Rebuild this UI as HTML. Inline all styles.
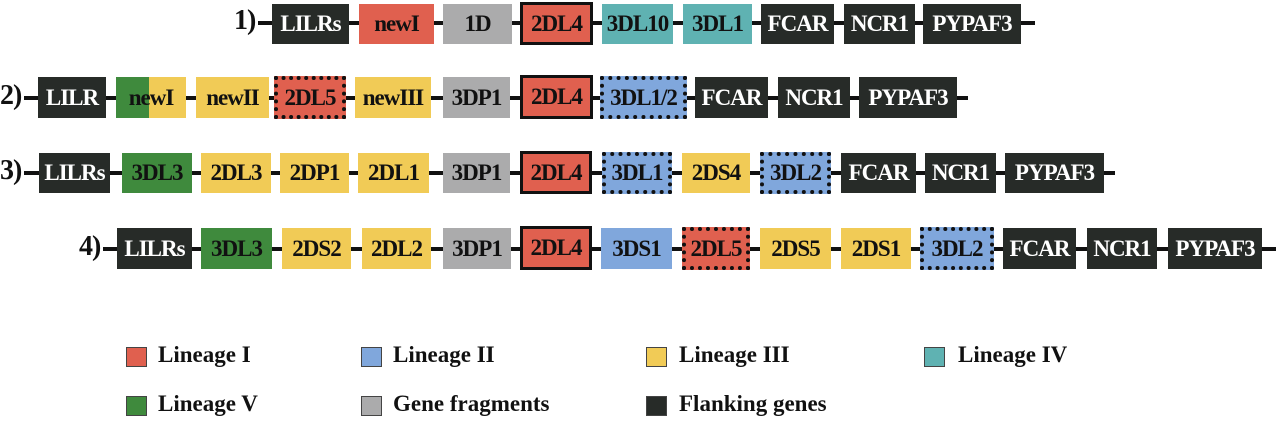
<!DOCTYPE html>
<html><head><meta charset="utf-8"><style>
body{margin:0;width:1280px;height:423px;background:#fff;position:relative;overflow:hidden;font-family:"Liberation Serif",serif;font-weight:bold}
.b{position:absolute;box-sizing:border-box;display:flex;align-items:center;justify-content:center;font-size:23px;color:#111;white-space:nowrap;letter-spacing:-1px}
.ln{position:absolute;height:4px;background:#111}
.lb{position:absolute;font-size:28px;color:#111;letter-spacing:-1px}
.R{background:#e0604f}.B{background:#80a7dc}.Y{background:#f1cb56}.T{background:#5fb2b2}.G{background:#3f8a3d}.S{background:#ababac}.D{background:#272b28;color:#fff}
.k{border:3px solid #111}.d{border:4px dotted #111}
.sq{position:absolute;width:21px;height:20px;box-sizing:border-box;border:1px solid #444}
.lt{position:absolute;font-size:23px;color:#111}
</style></head><body>
<!-- row1 -->
<div class="lb" style="left:234px;top:5px">1)</div>
<div class="ln" style="left:258px;width:777px;top:21px"></div>
<div class="b D" style="left:272px;top:4px;width:77px;height:40px">LILRs</div>
<div class="b R" style="left:359px;top:4px;width:75px;height:40px">newI</div>
<div class="b S" style="left:443px;top:4px;width:69px;height:40px">1D</div>
<div class="b R k" style="left:520px;top:2px;width:73px;height:43px">2DL4</div>
<div class="b T" style="left:602px;top:4px;width:71px;height:40px">3DL10</div>
<div class="b T" style="left:683px;top:4px;width:69px;height:40px">3DL1</div>
<div class="b D" style="left:761px;top:4px;width:73px;height:40px">FCAR</div>
<div class="b D" style="left:844px;top:4px;width:71px;height:40px">NCR1</div>
<div class="b D" style="left:923px;top:4px;width:98px;height:40px">PYPAF3</div>
<!-- row2 -->
<div class="lb" style="left:0px;top:80px">2)</div>
<div class="ln" style="left:24px;width:944px;top:96px"></div>
<div class="b D" style="left:38px;top:77px;width:68px;height:41px">LILR</div>
<div class="b" style="left:116px;top:77px;width:70px;height:41px;background:linear-gradient(90deg,#3f8a3d 0 33px,#f1cb56 33px)">newI</div>
<div class="b Y" style="left:196px;top:77px;width:73px;height:41px">newII</div>
<div class="b R d" style="left:274px;top:76px;width:72px;height:43px">2DL5</div>
<div class="b Y" style="left:355px;top:77px;width:76px;height:41px">newIII</div>
<div class="b S" style="left:443px;top:77px;width:67px;height:41px">3DP1</div>
<div class="b R k" style="left:520px;top:75px;width:73px;height:44px">2DL4</div>
<div class="b B d" style="left:600px;top:76px;width:87px;height:43px">3DL1/2</div>
<div class="b D" style="left:695px;top:77px;width:73px;height:41px">FCAR</div>
<div class="b D" style="left:778px;top:77px;width:72px;height:41px">NCR1</div>
<div class="b D" style="left:859px;top:77px;width:98px;height:41px">PYPAF3</div>
<!-- row3 -->
<div class="lb" style="left:0px;top:155px">3)</div>
<div class="ln" style="left:24px;width:1091px;top:171px"></div>
<div class="b D" style="left:39px;top:153px;width:71px;height:40px">LILRs</div>
<div class="b G" style="left:122px;top:153px;width:70px;height:40px">3DL3</div>
<div class="b Y" style="left:201px;top:153px;width:70px;height:40px">2DL3</div>
<div class="b Y" style="left:280px;top:153px;width:69px;height:40px">2DP1</div>
<div class="b Y" style="left:358px;top:153px;width:71px;height:40px">2DL1</div>
<div class="b S" style="left:443px;top:153px;width:67px;height:40px">3DP1</div>
<div class="b R k" style="left:520px;top:151px;width:72px;height:43px">2DL4</div>
<div class="b B d" style="left:602px;top:152px;width:70px;height:42px">3DL1</div>
<div class="b Y" style="left:682px;top:153px;width:68px;height:40px">2DS4</div>
<div class="b B d" style="left:760px;top:152px;width:71px;height:42px">3DL2</div>
<div class="b D" style="left:841px;top:153px;width:75px;height:40px">FCAR</div>
<div class="b D" style="left:925px;top:153px;width:71px;height:40px">NCR1</div>
<div class="b D" style="left:1005px;top:153px;width:99px;height:40px">PYPAF3</div>
<!-- row4 -->
<div class="lb" style="left:79px;top:231px">4)</div>
<div class="ln" style="left:103px;width:1173px;top:247px"></div>
<div class="b D" style="left:117px;top:228px;width:75px;height:41px">LILRs</div>
<div class="b G" style="left:201px;top:228px;width:71px;height:41px">3DL3</div>
<div class="b Y" style="left:282px;top:228px;width:69px;height:41px">2DS2</div>
<div class="b Y" style="left:362px;top:228px;width:69px;height:41px">2DL2</div>
<div class="b S" style="left:443px;top:228px;width:68px;height:41px">3DP1</div>
<div class="b R k" style="left:520px;top:226px;width:72px;height:44px">2DL4</div>
<div class="b B" style="left:601px;top:228px;width:71px;height:41px">3DS1</div>
<div class="b R d" style="left:682px;top:227px;width:68px;height:43px">2DL5</div>
<div class="b Y" style="left:760px;top:228px;width:71px;height:41px">2DS5</div>
<div class="b Y" style="left:841px;top:228px;width:70px;height:41px">2DS1</div>
<div class="b B d" style="left:920px;top:227px;width:74px;height:43px">3DL2</div>
<div class="b D" style="left:1003px;top:228px;width:73px;height:41px">FCAR</div>
<div class="b D" style="left:1087px;top:228px;width:70px;height:41px">NCR1</div>
<div class="b D" style="left:1168px;top:228px;width:94px;height:41px">PYPAF3</div>
<!-- legend -->
<div class="sq R" style="left:126px;top:347px"></div><div class="lt" style="left:158px;top:342px">Lineage I</div>
<div class="sq B" style="left:361px;top:347px"></div><div class="lt" style="left:393px;top:342px">Lineage II</div>
<div class="sq Y" style="left:646px;top:347px"></div><div class="lt" style="left:679px;top:342px">Lineage III</div>
<div class="sq T" style="left:924px;top:347px"></div><div class="lt" style="left:958px;top:342px">Lineage IV</div>
<div class="sq G" style="left:126px;top:396px"></div><div class="lt" style="left:158px;top:391px">Lineage V</div>
<div class="sq S" style="left:361px;top:396px"></div><div class="lt" style="left:393px;top:391px">Gene fragments</div>
<div class="sq D" style="left:646px;top:396px"></div><div class="lt" style="left:679px;top:391px">Flanking genes</div>
</body></html>
